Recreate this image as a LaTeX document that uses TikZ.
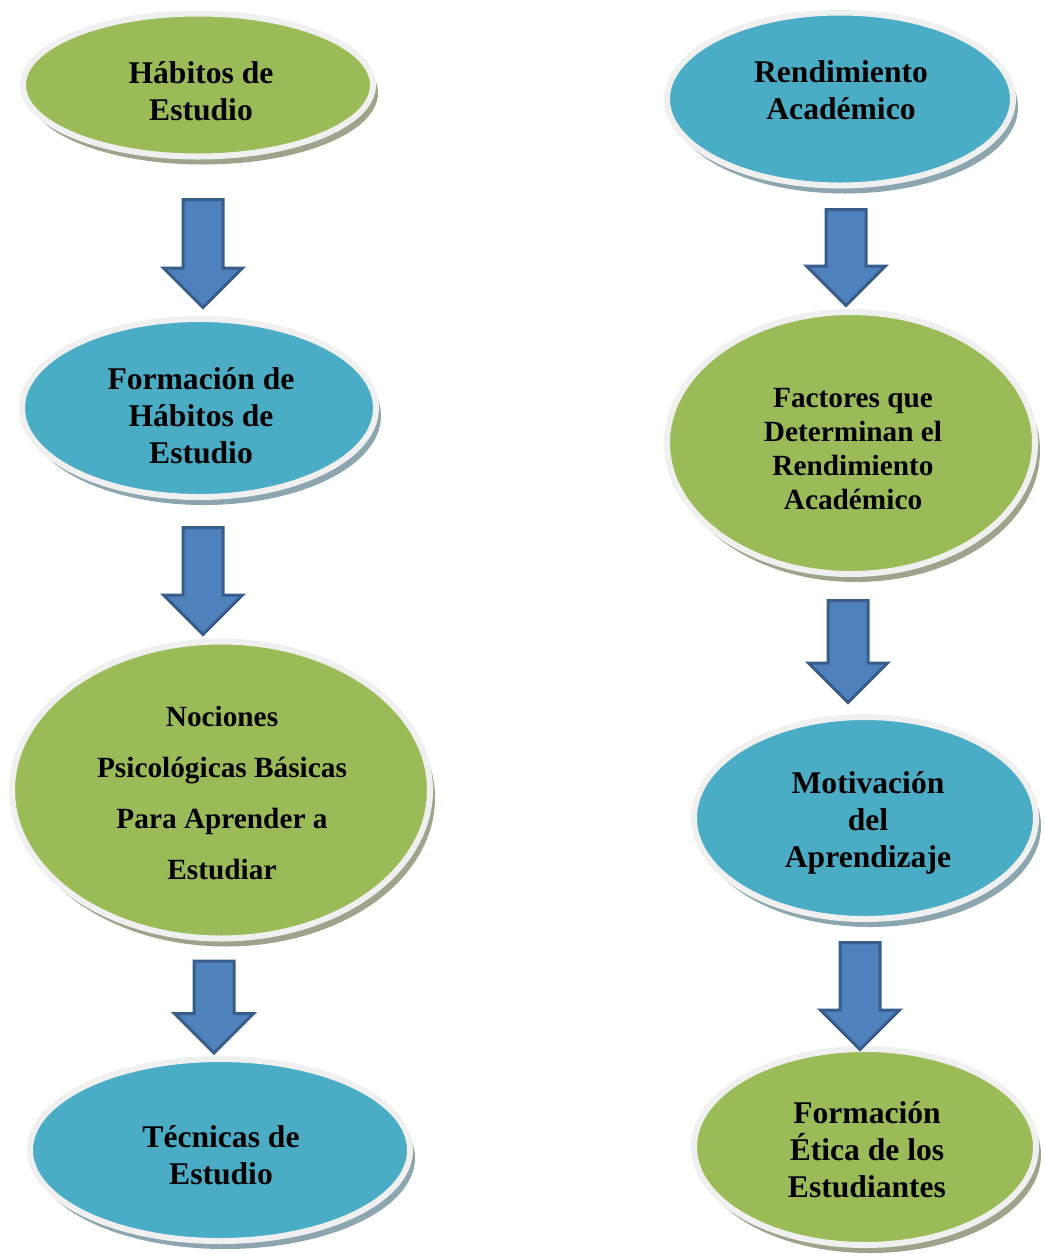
\documentclass[tikz,border=0pt]{standalone}
\usepackage{fontspec}
\setmainfont{Liberation Serif}
\usetikzlibrary{shapes.geometric,shapes.arrows,shadows}
\definecolor{ovgreen}{HTML}{9BBB59}
\definecolor{ovblue}{HTML}{4BACC6}
\definecolor{ovrim}{HTML}{F0F0F0}
\definecolor{shgreen}{HTML}{9DA48B}
\definecolor{shblue}{HTML}{8BA6AF}
\definecolor{arfill}{HTML}{4F81BD}
\definecolor{ardraw}{HTML}{385D8A}
\tikzset{
  oval/.style={ellipse, inner sep=0pt, draw=ovrim, line width=6pt},
  ovalg/.style={oval, fill=ovgreen,
    drop shadow={shadow xshift=5pt, shadow yshift=-8pt, fill=shgreen, opacity=1}},
  ovalb/.style={oval, fill=ovblue,
    drop shadow={shadow xshift=5pt, shadow yshift=-8pt, fill=shblue, opacity=1}},
  ovtext/.style={align=center, inner sep=0pt, font=\bfseries\fontsize{31.6}{37}\selectfont},
  blockarrow/.style={single arrow, shape border rotate=270, inner sep=0pt,
    text width=37pt, text height=0pt, text depth=0pt,
    minimum width=76pt, single arrow head extend=19.5pt, single arrow head indent=0pt,
    fill=arfill, draw=ardraw, line width=3pt}
}
\begin{document}
\begin{tikzpicture}[x=1pt,y=-1pt]
\useasboundingbox (0,0) rectangle (1045,1254);
% left column
\node[ovalg, minimum width=350pt, minimum height=143pt] (e1) at (198,85) {};
\node[ovtext] (e1t) at ([xshift=3pt,yshift=-6pt]e1.center) {Hábitos de\\Estudio};
\node[ovalb, minimum width=354pt, minimum height=178pt] (e2) at (199,408) {};
\node[ovtext] (e2t) at ([xshift=2pt,yshift=-8pt]e2.center) {Formación de\\Hábitos de\\Estudio};
\node[ovalg, minimum width=418pt, minimum height=297pt] (e3) at (221,790) {};
\node[ovtext, font=\bfseries\fontsize{29.3}{51}\selectfont] (e3t) at ([xshift=1pt,yshift=-3pt]e3.center)
  {Nociones\\Psicológicas Básicas\\Para Aprender a\\Estudiar};
\node[ovalb, minimum width=380pt, minimum height=182pt] (e4) at (220,1150) {};
\node[ovtext] (e4t) at ([xshift=1pt,yshift=-5pt]e4.center) {Técnicas de\\Estudio};
% right column
\node[ovalb, minimum width=346pt, minimum height=173pt] (r1) at (840,99) {};
\node[ovtext] (r1t) at ([xshift=1pt,yshift=9pt]r1.center) {Rendimiento\\Académico};
\node[ovalg, minimum width=368pt, minimum height=262pt] (r2) at (851,443) {};
\node[ovtext, font=\bfseries\fontsize{29.3}{34}\selectfont] (r2t) at ([xshift=2pt,yshift=-6pt]r2.center)
  {Factores que\\Determinan el\\Rendimiento\\Académico};
\node[ovalb, minimum width=342pt, minimum height=202pt] (r3) at (865,818) {};
\node[ovtext] (r3t) at ([xshift=3pt,yshift=-5pt]r3.center) {Motivación\\del\\Aprendizaje};
\node[ovalg, minimum width=342pt, minimum height=196pt] (r4) at (865,1147) {};
\node[ovtext] (r4t) at ([xshift=2pt,yshift=-3pt]r4.center) {Formación\\Ética de los\\Estudiantes};
% block arrows
\node[blockarrow, minimum height=108pt] (a1) at (203,243.5) {};
\node[blockarrow, minimum height=107pt] (a2) at (203,571) {};
\node[blockarrow, minimum height=92pt] (a3) at (214,997) {};
\node[blockarrow, minimum height=96pt] (b1) at (846,247.5) {};
\node[blockarrow, minimum height=102pt] (b2) at (848,641.5) {};
\node[blockarrow, minimum height=107pt] (b3) at (860,986) {};
\end{tikzpicture}
\end{document}
